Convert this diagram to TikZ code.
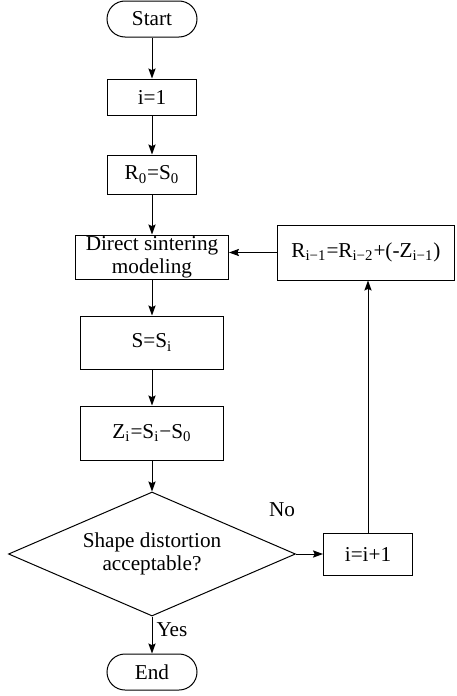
\documentclass[tikz,border=0pt]{standalone}
\usepackage{fontspec}
\setmainfont{Liberation Serif}
\usepackage{tikz}
\usetikzlibrary{arrows.meta,positioning,shapes.geometric}

\begin{document}
\begin{tikzpicture}[
      x=0.5pt, y=-0.5pt,
      node distance=20pt and 24pt,
      font=\fontsize{10.6}{11.4}\selectfont,
      box/.style={draw, line width=.5pt, align=center, inner sep=1pt},
      terminal/.style={box, rounded corners=9pt, minimum width=45pt, minimum height=18pt},
      proc/.style={box, minimum width=44.5pt, minimum height=18pt},
      decision/.style={draw, line width=.5pt, diamond, aspect=2.3, align=center, inner sep=0pt,
                       minimum width=143.5pt, minimum height=62pt},
      arr/.style={-{Stealth[length=5pt, width=3.6pt, inset=.8pt]}, line width=.5pt}]
    \useasboundingbox (0,0) rectangle (456,696);
    \node[terminal] (start) at (152,19) {Start};
    \node[proc, below=20.5pt of start] (init) {i=1};
    \node[proc, below=19.5pt of init, minimum height=19.5pt] (rzero) {R\textsubscript{0}=S\textsubscript{0}};
    \node[proc, below=20pt of rzero, minimum width=76.5pt, minimum height=22pt, inner sep=0pt] (model)
        {Direct sintering\\modeling};
    \node[proc, below=18pt of model, minimum width=71.5pt, minimum height=26.5pt] (shape) {S=S\textsubscript{i}};
    \node[proc, below=18pt of shape, minimum width=71.5pt, minimum height=27pt] (dev)
        {Z\textsubscript{i}=S\textsubscript{i}−S\textsubscript{0}};
    \node[decision, below=15.5pt of dev] (check) {Shape distortion\\acceptable?};
    \node[terminal, below=18.5pt of check] (stop) {End};
    \node[proc, right=13.5pt of check, minimum height=21pt] (incr) {i=i+1};
    \node[proc, right=24pt of model, yshift=2.25pt, minimum width=88.5pt, minimum height=27.5pt] (update)
        {R\textsubscript{i−1}=R\textsubscript{i−2}+(-Z\textsubscript{i−1})};
    \draw[arr] (start) -- (init);
    \draw[arr] (init) -- (rzero);
    \draw[arr] (rzero) -- (model);
    \draw[arr] (model) -- (shape);
    \draw[arr] (shape) -- (dev);
    \draw[arr] (dev) -- (check);
    \draw[arr] (check) -- node[right, pos=.35, inner sep=2pt] {Yes} (stop);
    \draw[arr] (check.east) -- node[at start, xshift=-7pt, yshift=22pt] {No} (incr);
    \draw[arr] (incr.north) -- (incr.north |- update.south);
    \draw[arr] (update.west) -- (update.west -| model.east);
  \end{tikzpicture}
\end{document}
